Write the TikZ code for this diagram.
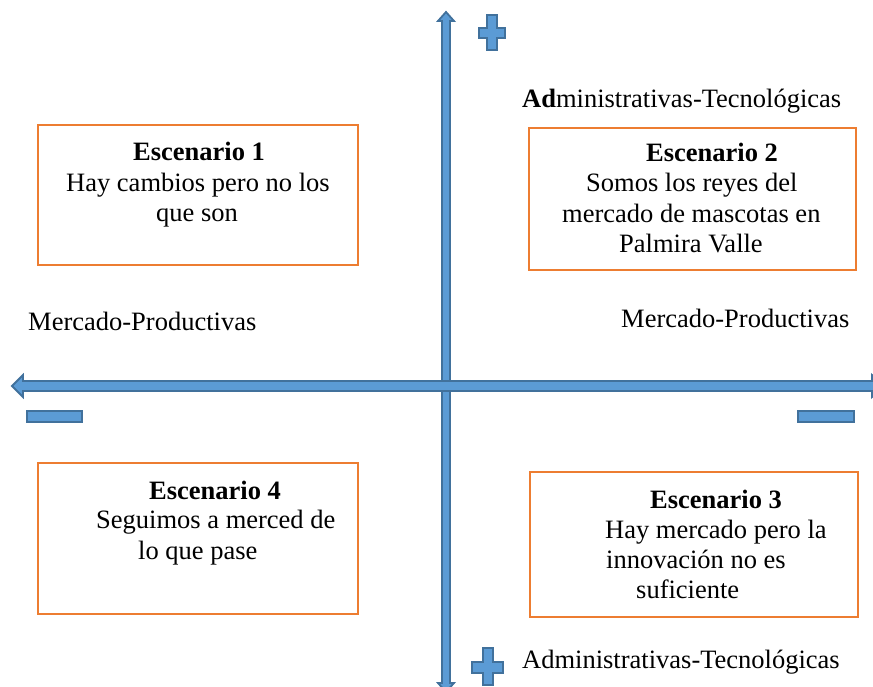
\documentclass[tikz,border=0pt]{standalone}
\usepackage{fontspec}
\setmainfont{Liberation Serif}
\definecolor{axfill}{HTML}{5B9BD5}
\definecolor{axline}{HTML}{41719C}
\definecolor{boxline}{HTML}{ED7D31}
\tikzset{
  scbox/.style={draw=boxline, line width=2pt, fill=white, inner sep=0pt},
  lbl/.style={anchor=base west, inner sep=0pt, font=\fontsize{26.5}{30}\selectfont},
  blk/.style={fill=axfill, draw=axline, line width=1.8pt, line join=miter}
}
\begin{document}
\begin{tikzpicture}[x=1pt,y=-1pt]
\useasboundingbox (0,0) rectangle (873,687);
\clip (0,0) rectangle (873,687);
% vertical axis (block arrow, both ends)
\draw[blk] (446,12) -- (454,21) -- (450,21) -- (450,683) -- (454,683) -- (446,692)
  -- (438,683) -- (442,683) -- (442,21) -- (438,21) -- cycle;
% horizontal axis
\draw[blk] (12,386) -- (23,375) -- (23,381) -- (872,381) -- (872,375) -- (884,386)
  -- (872,397) -- (872,391) -- (23,391) -- (23,397) -- cycle;
% plus signs
\draw[blk] (487,15) -- (497,15) -- (497,28) -- (505,28) -- (505,38) -- (497,38) -- (497,50)
  -- (487,50) -- (487,38) -- (479,38) -- (479,28) -- (487,28) -- cycle;
\draw[blk] (483,648) -- (493,648) -- (493,662) -- (503,662) -- (503,673) -- (493,673) -- (493,685)
  -- (483,685) -- (483,673) -- (472,673) -- (472,662) -- (483,662) -- cycle;
% minus signs
\draw[blk] (27,411) rectangle (82,422);
\draw[blk] (798,411) rectangle (854,422);
% boxes
\node[scbox, minimum width=320pt, minimum height=140pt] (b1) at (198,195) {};
\node[scbox, minimum width=327pt, minimum height=142pt] (b2) at (692.5,199) {};
\node[scbox, minimum width=328pt, minimum height=145pt] (b3) at (694,544.5) {};
\node[scbox, minimum width=320pt, minimum height=151pt] (b4) at (198,538.5) {};
% box 1
\node[lbl] (t11) at (133,161) {\bfseries Escenario 1};
\node[lbl] (t12) at (66,192) {Hay cambios pero no los};
\node[lbl] (t13) at (156,222) {que son};
% box 2
\node[lbl] (t21) at (646,162) {\bfseries Escenario 2};
\node[lbl] (t22) at (586,192) {Somos los reyes del};
\node[lbl] (t23) at (562,223) {mercado de mascotas en};
\node[lbl] (t24) at (619,253) {Palmira Valle};
% box 3
\node[lbl] (t31) at (650,508) {\bfseries Escenario 3};
\node[lbl] (t32) at (605,538) {Hay mercado pero la};
\node[lbl] (t33) at (606,568) {innovación no es};
\node[lbl] (t34) at (636,598) {suficiente};
% box 4
\node[lbl] (t41) at (149,499) {\bfseries Escenario 4};
\node[lbl] (t42) at (96,528) {Seguimos a merced de};
\node[lbl] (t43) at (138,559) {lo que pase};
% axis labels
\node[lbl] (atop) at (522,108) {\textbf{Ad}ministrativas-Tecnológicas};
\node[lbl] (abot) at (522,668) {Administrativas-Tecnológicas};
\node[lbl] (mleft) at (28,330) {Mercado-Productivas};
\node[lbl] (mright) at (621,327) {Mercado-Productivas};
\end{tikzpicture}
\end{document}
